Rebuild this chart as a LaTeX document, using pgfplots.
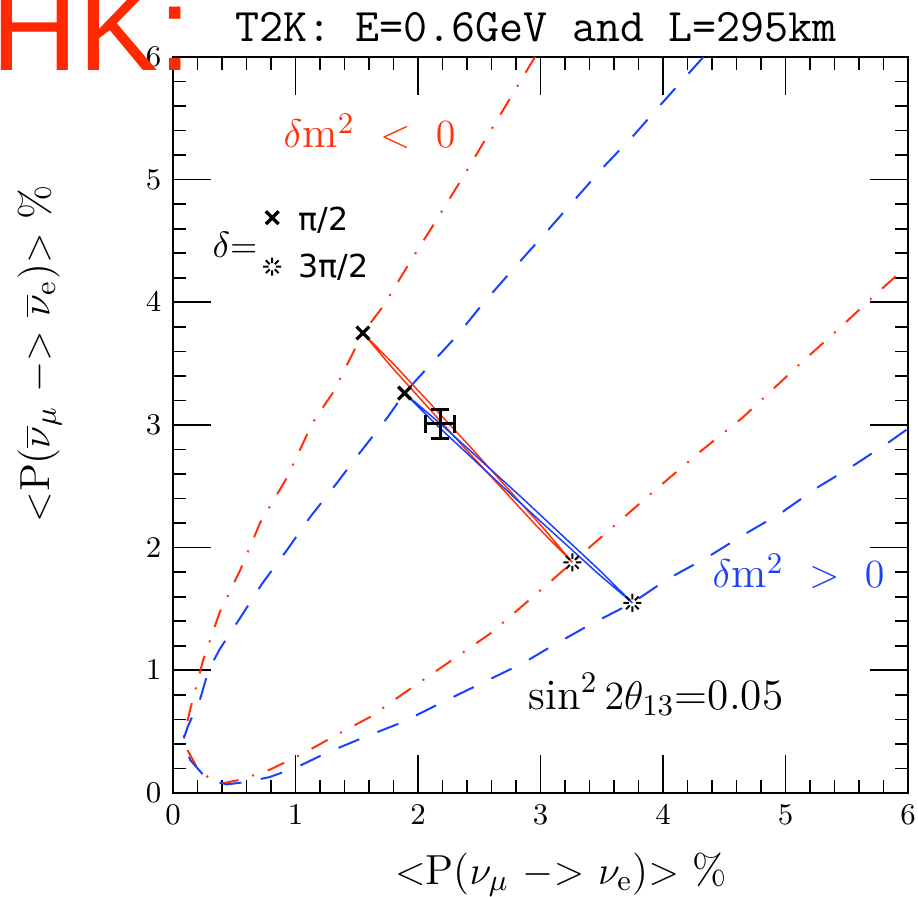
\documentclass[border=0pt]{standalone}
\usepackage{pgfplots}
\pgfplotsset{compat=1.18}
\usepackage{fontspec}
\newfontfamily\hkfont{Liberation Sans}
\newfontfamily\legfont{DejaVu Sans}
\definecolor{hkred}{RGB}{255,40,0}
\definecolor{curvered}{RGB}{255,50,10}
\definecolor{curveblue}{RGB}{25,65,255}

% 8-spoke mark with an open centre (delta = 3pi/2)
\newcommand\burstray[1]{%
  \pgfpathmoveto{\pgfpointpolar{#1}{0.4\pgfplotmarksize}}%
  \pgfpathlineto{\pgfpointpolar{#1}{\pgfplotmarksize}}}
\pgfdeclareplotmark{burst}{%
  \burstray{0}\burstray{45}\burstray{90}\burstray{135}%
  \burstray{180}\burstray{225}\burstray{270}\burstray{315}%
  \pgfusepathqstroke}

\begin{document}
\begin{tikzpicture}
\useasboundingbox (-51.9pt,-31.2pt) rectangle (223.5pt,237.9pt);
\begin{axis}[
  at={(0pt,0pt)}, anchor=south west,
  scale only axis, width=220.5pt, height=220.8pt,
  xmin=0, xmax=6, ymin=0, ymax=6,
  xtick={0,...,6}, ytick={0,...,6},
  minor tick num=4,
  tick align=inside, tick pos=both,
  major tick length=11.5pt, minor tick length=4pt,
  axis line style={line width=0.8pt},
  every tick/.style={black, line width=0.5pt},
  tick label style={font=\fontsize{9.3}{11}\selectfont},
]
% delta m^2 < 0
\addplot[curvered, line width=0.6pt, dash pattern=on 5.5pt off 4.3pt on 0.6pt off 4.3pt] coordinates {
 (2.955,6.00) (2.57,5.36) (2.36,5.01) (2.15,4.67) (1.93,4.32) (1.71,3.96)
 (1.55,3.75) (1.31,3.27) (1.14,3.02) (0.93,2.57) (0.71,2.20) (0.55,1.82)
 (0.38,1.47) (0.245,1.08) (0.14,0.68) (0.08,0.42) (0.195,0.21) (0.33,0.09)
 (0.41,0.08) (0.56,0.11) (0.79,0.19) (1.06,0.32) (1.31,0.46) (1.61,0.62)
 (1.88,0.81) (2.20,1.03) (2.59,1.30) (2.94,1.60) (3.26,1.88) (3.89,2.43)
 (4.30,2.78) (4.65,3.06) (5.12,3.50) (5.42,3.77) (5.71,4.04) (5.93,4.24)
};
% delta m^2 > 0
\addplot[curveblue, line width=0.6pt, dash pattern=on 6.7pt off 5.9pt] coordinates {
 (4.33,6.00) (3.98,5.61) (3.76,5.36) (3.53,5.12) (3.30,4.86) (3.08,4.61)
 (2.75,4.24) (2.53,3.99) (2.32,3.73) (2.08,3.47) (1.89,3.26) (1.75,3.06)
 (1.53,2.78) (1.34,2.53) (1.12,2.25) (0.93,1.98) (0.73,1.71) (0.55,1.43)
 (0.38,1.17) (0.29,1.00) (0.22,0.76) (0.12,0.54) (0.08,0.42) (0.14,0.27)
 (0.28,0.11) (0.44,0.07) (0.60,0.09) (0.79,0.13) (1.01,0.21) (1.26,0.33)
 (1.55,0.45) (1.88,0.58) (2.20,0.74) (2.53,0.90) (2.86,1.06) (3.08,1.19)
 (3.40,1.37) (3.75,1.55) (4.03,1.74) (4.36,1.92) (4.65,2.10) (4.96,2.28)
 (5.26,2.49) (5.54,2.66) (5.83,2.85) (6.00,2.97)
};
% flat ellipses for sin^2 2theta13 = 0.05
\addplot[curvered, line width=0.45pt] coordinates {
 (3.26,1.88) (3.020,2.163) (2.420,2.829) (1.811,3.486) (1.55,3.75)
 (1.790,3.467) (2.390,2.802) (2.999,2.144) (3.26,1.88)
};
\addplot[curveblue, line width=0.45pt] coordinates {
 (3.75,1.55) (3.487,1.811) (2.834,2.420) (2.172,3.020) (1.89,3.26)
 (2.153,2.999) (2.807,2.390) (3.468,1.790) (3.75,1.55)
};
% delta = pi/2 and 3pi/2 points (and the key)
\addplot[black, only marks, mark=x, mark size=2.7pt, line width=1pt] coordinates {
 (1.55,3.75) (1.89,3.26) (0.81,4.69)
};
\addplot[black, only marks, mark=burst, mark size=2.7pt, line width=0.6pt] coordinates {
 (3.26,1.88) (3.75,1.55) (0.81,4.29)
};
% measured point 2.18 +- 0.12, 3.01 +- 0.12 (bars with end caps)
\addplot[black, line width=0.9pt, mark=|, mark size=2.7pt] coordinates {(2.06,3.01) (2.30,3.01)};
\addplot[black, line width=0.9pt, mark=-, mark size=2.7pt] coordinates {(2.18,2.89) (2.18,3.13)};
\end{axis}
\node[anchor=base west, text=hkred, font=\hkfont\fontsize{36}{36}\selectfont, inner sep=0pt] at (-54.6pt,216.6pt) {HK:};
\node[anchor=base, font=\ttfamily\fontsize{14}{16}\selectfont, inner sep=0pt] at (108.9pt,225.3pt) {T2K: E=0.6GeV and L=295km};
\node[anchor=base, font=\fontsize{12.6}{14}\selectfont, inner sep=0pt] at (116.4pt,-27.6pt)
  {$<$P($\nu_\mu$ $-$$>$ $\nu_{\mathrm{e}}$)$>$ \%};
\node[anchor=base, rotate=90, font=\fontsize{12.6}{14}\selectfont, inner sep=0pt] at (-37pt,131.7pt)
  {$<$P($\overline{\nu}_\mu$ $-$$>$ $\overline{\nu}_{\mathrm{e}}$)$>$ \%};
\node[anchor=base west, text=curvered, font=\fontsize{13}{15}\selectfont, inner sep=0pt] at (33pt,193.5pt) {$\delta\mathrm{m}^2\ <\ 0$};
\node[anchor=base west, text=curveblue, font=\fontsize{13}{15}\selectfont, inner sep=0pt] at (161.7pt,61.5pt) {$\delta\mathrm{m}^2\ >\ 0$};
\node[anchor=base west, font=\fontsize{13}{15}\selectfont, inner sep=0pt] at (106.5pt,24.9pt) {$\sin^2 2\theta_{13}$=0.05};
\node[anchor=west, font=\fontsize{10.5}{12}\selectfont, inner sep=0pt] at (11.7pt,164.4pt) {$\delta$=};
\node[anchor=west, font=\legfont\fontsize{9.5}{11}\selectfont, inner sep=0pt] at (37.5pt,171.9pt) {π/2};
\node[anchor=west, font=\legfont\fontsize{9.5}{11}\selectfont, inner sep=0pt] at (37.5pt,157.8pt) {3π/2};
\end{tikzpicture}
\end{document}
